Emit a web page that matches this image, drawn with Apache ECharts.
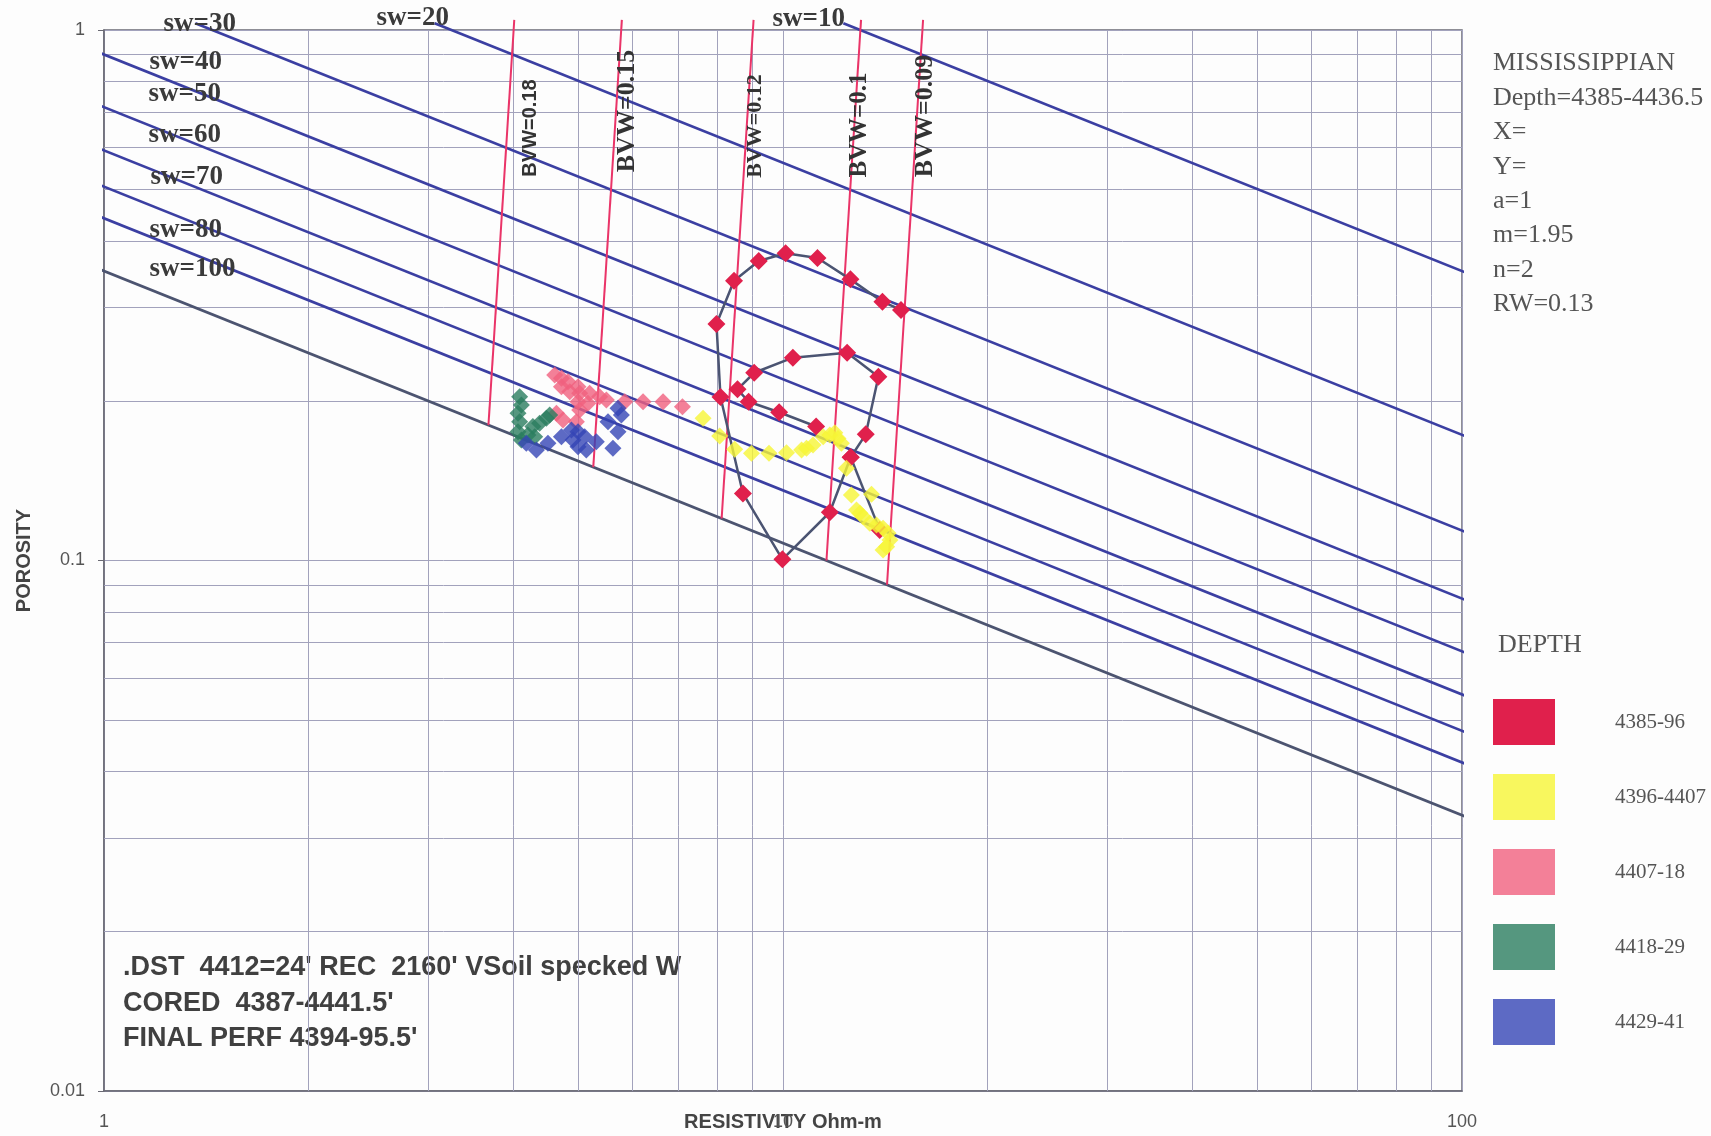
<!DOCTYPE html>
<html>
<head>
<meta charset="utf-8">
<script src="https://cdn.jsdelivr.net/npm/echarts@6/dist/echarts.min.js"></script>
<style>
html, body { margin: 0; padding: 0; background: #fdfdfd; }
#pickett { width: 1711px; height: 1136px; }
</style>
</head>
<body>
<div id="pickett"></div>
<script>
// axis ticks / grid positions
const xTickLabels = ['1', '10', '100']
const yTickLabels = ['0.01', '0.1', '1']
const xMinor = [2, 3, 4, 5, 6, 7, 8, 9, 20, 30, 40, 50, 60, 70, 80, 90]
const yMinor = [0.02, 0.03, 0.04, 0.05, 0.06, 0.07, 0.08, 0.09, 0.2, 0.3, 0.4, 0.5, 0.6, 0.7, 0.8, 0.9]

// water saturation lines [Rt, porosity] start / end
const swValues = [100, 80, 70, 60, 50, 40, 30, 20, 10]
const swStart = [[0.975, 0.3558], [0.975, 0.4474], [0.975, 0.5130], [0.975, 0.6009], [0.975, 0.7244], [0.975, 0.9107], [1.363, 1.03], [3.068, 1.03], [12.27, 1.03]]
const swEnd = [[102.5, 0.03269], [102.5, 0.04110], [102.5, 0.04713], [102.5, 0.05521], [102.5, 0.06657], [102.5, 0.08369], [102.5, 0.1124], [102.5, 0.1704], [102.5, 0.3468]]

// bulk volume water lines
const bvwValues = ['0.18', '0.15', '0.12', '0.1', '0.09']
const bvwTop = [[4.02, 1.045], [5.79, 1.045], [9.05, 1.045], [13.03, 1.045], [16.08, 1.045]]
const bvwBottom = [[3.683, 0.18], [5.255, 0.15], [8.121, 0.12], [11.587, 0.10], [14.229, 0.09]]

// depth intervals
const depthNames = ['4385-96', '4396-4407', '4407-18', '4418-29', '4429-41']

const red = [
  [14.92, 0.2967], [14.01, 0.3075], [12.57, 0.3388], [11.24, 0.3717], [10.09, 0.3794],
  [9.21, 0.3669], [8.47, 0.3368], [7.98, 0.2791], [8.09, 0.2033], [8.73, 0.1338],
  [9.98, 0.1005], [11.72, 0.1233], [12.58, 0.1565], [13.24, 0.1729], [13.82, 0.2221],
  [12.43, 0.2464], [10.34, 0.2412], [9.07, 0.2259], [8.57, 0.2102], [8.90, 0.1992],
  [9.87, 0.1903], [11.19, 0.1789]
]
const redTail = [[12.58, 0.1565], [13.88, 0.1142]]

const yellow = [
  [7.625, 0.1854], [8.068, 0.1717], [8.489, 0.1620], [8.986, 0.1592], [9.537, 0.1592],
  [10.12, 0.1596], [10.65, 0.1615], [10.83, 0.1627], [11.07, 0.1651], [11.46, 0.1711],
  [11.72, 0.1724], [11.92, 0.1741], [12.05, 0.1699], [12.19, 0.1663], [12.40, 0.1492],
  [12.61, 0.1329], [13.50, 0.1333], [12.83, 0.1245], [12.98, 0.1227], [13.12, 0.1209],
  [13.42, 0.1175], [13.73, 0.1166], [14.04, 0.1150], [14.28, 0.1125], [14.37, 0.1093],
  [14.21, 0.1062], [14.04, 0.1047]
]

const pink = [
  [4.611, 0.2238], [4.717, 0.2205], [4.824, 0.2173], [4.990, 0.2126], [4.852, 0.2081],
  [5.018, 0.2066], [5.191, 0.2066], [5.370, 0.2036], [5.494, 0.2007], [4.990, 0.1992],
  [5.018, 0.1921], [4.638, 0.1894], [4.742, 0.1840], [4.962, 0.1826], [4.717, 0.2126],
  [5.161, 0.1978], [5.847, 0.1992], [6.222, 0.1992], [6.658, 0.1992], [7.110, 0.1950]
]

const green = [
  [4.094, 0.2036], [4.118, 0.1964], [4.071, 0.1894], [4.094, 0.1826], [4.071, 0.1749],
  [4.118, 0.1687], [4.282, 0.1788], [4.381, 0.1814], [4.482, 0.1854], [4.533, 0.1881],
  [4.210, 0.1724], [4.308, 0.1711]
]

const blue = [
  [4.188, 0.1663], [4.334, 0.1615], [4.506, 0.1663], [4.717, 0.1711], [4.880, 0.1762],
  [4.990, 0.1749], [4.990, 0.1638], [5.133, 0.1615], [5.310, 0.1675], [5.524, 0.1826],
  [5.715, 0.1936], [5.781, 0.1881], [5.715, 0.1749], [5.618, 0.1627], [4.906, 0.1687],
  [5.104, 0.1711]
]

const infoLines = ['MISSISSIPPIAN', 'Depth=4385-4436.5', 'X=', 'Y=', 'a=1', 'm=1.95', 'n=2', 'RW=0.13']
const noteLines = [".DST  4412=24' REC  2160' VSoil specked W", "CORED  4387-4441.5'", "FINAL PERF 4394-95.5'"]

const colors = ['#e0204c', '#f6f536', '#f0607e', '#2a7d5f', '#3545b5']
const gridColor = '#a2a2bc'
const serif = '"Liberation Serif", "Times New Roman", serif'
const sans = '"Liberation Sans", Arial, sans-serif'

const chart = echarts.init(document.getElementById('pickett'))

const series = []

// sw lines (first one also carries the minor grid lines)
swValues.forEach((sw, i) => {
  const s = {
    name: 'sw=' + sw,
    type: 'line',
    data: [swStart[i], swEnd[i]],
    symbol: 'none',
    clip: false,
    silent: true,
    z: 3,
    lineStyle: { color: sw === 100 ? '#4c5470' : '#3b3fa2', width: 2.6 }
  }
  if (i === 0) {
    s.markLine = {
      silent: true,
      symbol: 'none',
      label: { show: false },
      lineStyle: { color: gridColor, width: 1, type: 'solid' },
      z: 1,
      data: [
        ...xMinor.map(v => ({ xAxis: v })),
        ...yMinor.map(v => ({ yAxis: v }))
      ]
    }
  }
  series.push(s)
})

// BVW lines
bvwValues.forEach((b, i) => {
  series.push({
    name: 'BVW=' + b,
    type: 'line',
    data: [bvwTop[i], bvwBottom[i]],
    symbol: 'none',
    clip: false,
    silent: true,
    z: 3,
    lineStyle: { color: '#ea3468', width: 2 }
  })
})

// data
series.push({
  name: depthNames[0],
  type: 'line',
  data: red,
  symbol: 'diamond',
  symbolSize: 18,
  showAllSymbol: true,
  z: 5,
  itemStyle: { color: colors[0] },
  lineStyle: { color: '#4b5472', width: 2.5 }
})
series.push({
  name: depthNames[0],
  type: 'line',
  data: redTail,
  symbol: 'diamond',
  symbolSize: 18,
  z: 5,
  itemStyle: { color: colors[0] },
  lineStyle: { color: '#4b5472', width: 2.5 }
})
const scatterSets = [yellow, pink, green, blue]
scatterSets.forEach((d, i) => {
  series.push({
    name: depthNames[i + 1],
    type: 'scatter',
    data: d,
    symbol: 'diamond',
    symbolSize: 17,
    z: 6,
    itemStyle: { color: colors[i + 1] }
  })
})

const graphic = []
infoLines.forEach((t, i) => {
  graphic.push({
    type: 'text', x: 1493, y: 63.5 + i * 34.4,
    style: { text: t, font: '26px ' + serif, fill: '#555', align: 'left', verticalAlign: 'middle', textAlign: 'left', textVerticalAlign: 'middle' }
  })
})
graphic.push({
  type: 'text', x: 1498, y: 645,
  style: { text: 'DEPTH', font: '26px ' + serif, fill: '#555', align: 'left', verticalAlign: 'middle', textAlign: 'left', textVerticalAlign: 'middle' }
})
noteLines.forEach((t, i) => {
  graphic.push({
    type: 'text', x: 123, y: 968 + i * 35.5,
    style: { text: t, font: 'bold 27px ' + sans, fill: '#404040', align: 'left', verticalAlign: 'middle', textAlign: 'left', textVerticalAlign: 'middle' }
  })
})

// sw labels
const swLabelPos = [[149.5, 269.5], [149.5, 230], [150.5, 177], [148.5, 135.5], [148.5, 94], [149.5, 62], [163.5, 24], [376.5, 18.5], [772.5, 19.5]]
swValues.forEach((sw, i) => {
  graphic.push({
    type: 'text', x: swLabelPos[i][0], y: swLabelPos[i][1], z: 10,
    style: { text: 'sw=' + sw, font: 'bold 27px ' + serif, fill: '#3a3a3a', align: 'left', verticalAlign: 'middle', textAlign: 'left', textVerticalAlign: 'middle' }
  })
})

// BVW labels
const bvwLabelPos = [[530, 128], [627.5, 111], [755, 126], [860, 125], [925, 116]]
const bvwFonts = ['bold 20px ' + sans, 'bold 26px ' + serif, 'bold 22px ' + serif, 'bold 25px ' + serif, 'bold 26px ' + serif]
bvwValues.forEach((b, i) => {
  graphic.push({
    type: 'text', x: bvwLabelPos[i][0], y: bvwLabelPos[i][1], rotation: Math.PI / 2, z: 10,
    style: { text: 'BVW=' + b, font: bvwFonts[i], fill: '#333', align: 'center', verticalAlign: 'middle', textAlign: 'center', textVerticalAlign: 'middle' }
  })
})

const option = {
  animation: false,
  backgroundColor: '#fdfdfd',
  grid: {
    left: 104, right: 249, top: 30, bottom: 45,
    outerBoundsMode: 'none',
    containLabel: false,
    show: true, borderColor: '#6a6a74', borderWidth: 1.5, backgroundColor: '#fdfdfd'
  },
  legend: {
    data: depthNames,
    orient: 'vertical',
    left: 1488, top: 694,
    icon: 'rect',
    itemWidth: 62, itemHeight: 46, itemGap: 29,
    selectedMode: false,
    textStyle: { fontFamily: serif, fontSize: 21, color: '#555', padding: [0, 0, 0, 55] }
  },
  xAxis: {
    type: 'log', logBase: 10, min: 1, max: 100,
    name: 'RESISTIVITY Ohm-m', nameLocation: 'middle', nameGap: 21,
    nameMoveOverlap: false,
    nameTextStyle: { fontFamily: sans, fontWeight: 'bold', fontSize: 20, color: '#444', verticalAlign: 'top' },
    axisLine: { show: true, onZero: false, lineStyle: { color: '#6a6a74', width: 1.5 } },
    axisTick: { show: false },
    axisLabel: {
      margin: 22, fontFamily: sans, fontSize: 18, color: '#555',
      formatter: v => xTickLabels[Math.round(Math.log10(v))]
    },
    splitLine: { show: true, lineStyle: { color: gridColor, width: 1 } }
  },
  yAxis: {
    type: 'log', logBase: 10, min: 0.01, max: 1,
    name: 'POROSITY', nameLocation: 'middle', nameGap: 70,
    nameMoveOverlap: false,
    nameTextStyle: { fontFamily: sans, fontWeight: 'bold', fontSize: 20, color: '#444' },
    axisLine: { show: true, onZero: false, lineStyle: { color: '#6a6a74', width: 1.5 } },
    axisTick: { show: true, length: 6, lineStyle: { color: '#6a6a74' } },
    axisLabel: {
      margin: 19, fontFamily: sans, fontSize: 18, color: '#555',
      formatter: v => yTickLabels[Math.round(Math.log10(v)) + 2]
    },
    splitLine: { show: true, lineStyle: { color: gridColor, width: 1 } }
  },
  series: series,
  graphic: graphic
}

chart.setOption(option)
window.addEventListener('resize', () => {
  chart.resize()
})
</script>
</body>
</html>
